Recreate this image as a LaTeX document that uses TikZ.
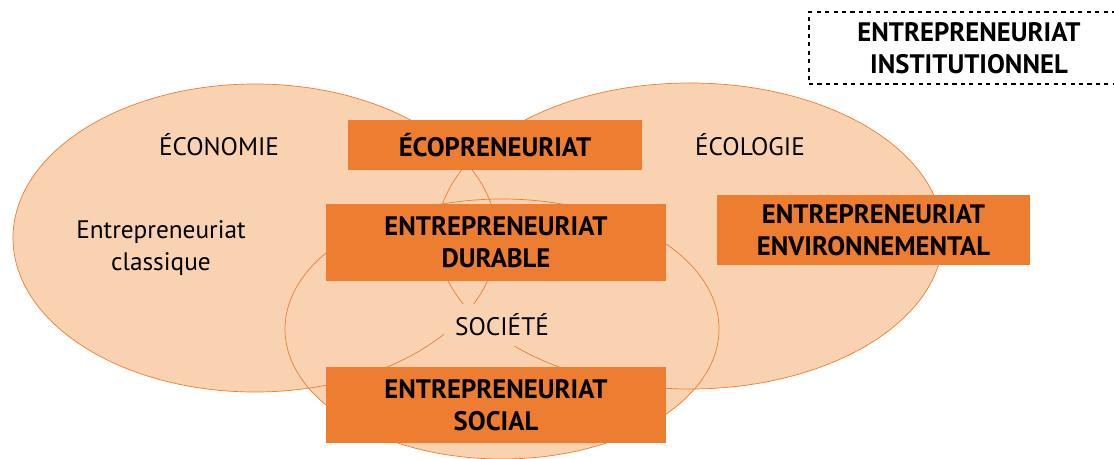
\documentclass[tikz,border=0pt]{standalone}
\usepackage{fontspec}
\setmainfont{PT Sans}
\usetikzlibrary{calc}
\definecolor{boxorange}{HTML}{ED7D31}
\definecolor{paleorange}{HTML}{F9D2B2}
\tikzset{
	sphere/.style={fill=paleorange},
	rim/.style={draw=boxorange, line width=0.5pt},
	typebox/.style={fill=boxorange, align=center, font=\bfseries\fontsize{19}{22.8}\selectfont, inner sep=0pt},
	fieldlabel/.style={font=\fontsize{18}{22.8}\selectfont, align=center, inner sep=2pt}
}

\begin{document}
\begin{tikzpicture}[x=0.025cm, y=-0.025cm]
		%%%%% START %%%%%
		\useasboundingbox (0, 0) rectangle (1114, 459);
		
		% the three spheres
		\fill[sphere] (255, 238) ellipse [x radius=242, y radius=154];
		\fill[sphere] (690, 236) ellipse [x radius=253, y radius=153];
		\fill[sphere] (502, 329) ellipse [x radius=217, y radius=130];
		\draw[rim] (255, 238) ellipse [x radius=242, y radius=154];
		\draw[rim] (690, 236) ellipse [x radius=253, y radius=153];
		\draw[rim] (502, 329) ellipse [x radius=217, y radius=130];
		
		\node[fieldlabel] (eco) at (219, 145) {ÉCONOMIE};
		\node[fieldlabel] (ecol) at (750, 145) {ÉCOLOGIE};
		\node[fieldlabel, fill=paleorange, inner xsep=8pt, inner ysep=7pt] (soc) at (502, 325) {SOCIÉTÉ};
		\node[fieldlabel] (classique) at (161, 248) {Entrepreneuriat\\classique};
		
		% types of entrepreneurship
		\node[typebox, minimum width=7.35cm, minimum height=1.25cm] (ecop) at (495, 145) {ÉCOPRENEURIAT};
		\node[typebox, minimum width=8.5cm, minimum height=1.925cm] (durable) at (496, 242.5) {ENTREPRENEURIAT\\DURABLE};
		\node[typebox, minimum width=8.5cm, minimum height=1.9cm] (social) at (496, 405) {ENTREPRENEURIAT\\SOCIAL};
		\node[typebox, minimum width=7.825cm, minimum height=1.75cm] (environ) at (873.5, 230) {ENTREPRENEURIAT\\ENVIRONNEMENTAL};
		
		\node[typebox, fill=none, draw=black, dashed, line width=0.8pt, minimum width=8cm, minimum height=1.8cm] (instit) at (969, 48) {ENTREPRENEURIAT\\INSTITUTIONNEL};
		
		%%%%% END %%%%%
	\end{tikzpicture}
\end{document}
